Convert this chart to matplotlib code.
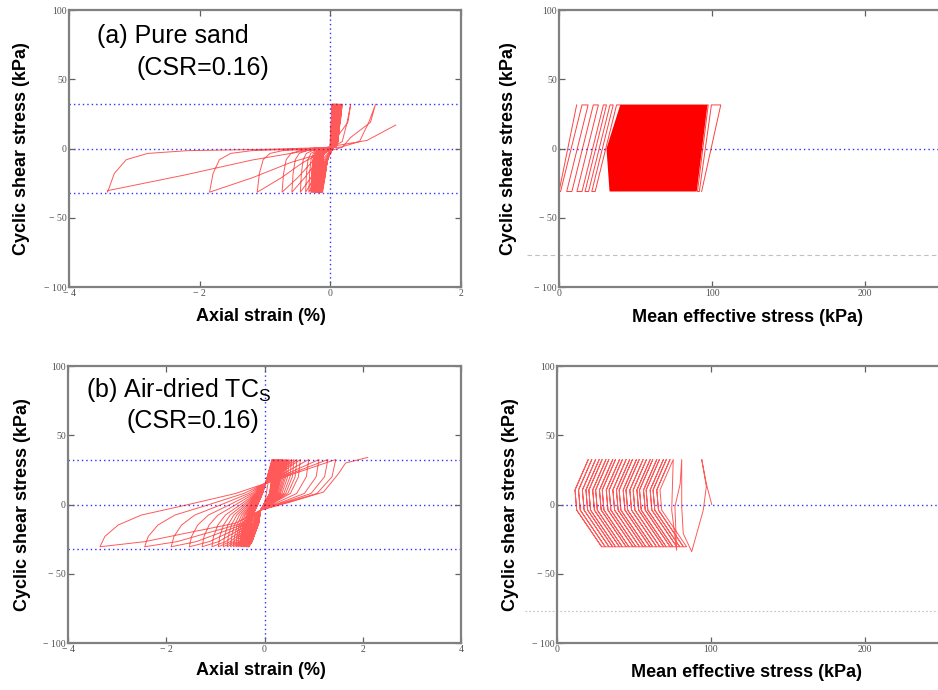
import matplotlib
matplotlib.use("Agg")
import matplotlib.pyplot as plt

plt.rcParams['font.family'] = ['Liberation Sans', 'DejaVu Sans']
plt.rcParams['mathtext.fontset'] = 'custom'
plt.rcParams['mathtext.rm'] = 'Liberation Sans'

# stress limits (kPa)
TAU_MAX = 32
GRAY_LEVEL = -77

# ---------- (a) pure sand : stress-strain loops ----------
# strain at +tau peak and at -tau corner, cycle by cycle
PEAK_A = [0.02, 0.02, 0.03, 0.03, 0.04, 0.04, 0.05, 0.05, 0.05, 0.06, 0.06, 0.06,
          0.07, 0.07, 0.07, 0.08, 0.08, 0.08, 0.09, 0.09, 0.09, 0.10, 0.10, 0.10,
          0.11, 0.11, 0.12, 0.12, 0.13, 0.13, 0.14, 0.15, 0.15, 0.16, 0.17, 0.18,
          0.31, 0.69]
CORNER_A = [-0.12, -0.13, -0.13, -0.14, -0.14, -0.15, -0.15, -0.16, -0.16, -0.17,
            -0.17, -0.18, -0.18, -0.19, -0.19, -0.20, -0.20, -0.21, -0.21, -0.22,
            -0.22, -0.23, -0.23, -0.24, -0.25, -0.26, -0.27, -0.28, -0.29, -0.30,
            -0.33, -0.38, -0.46, -0.59, -0.74, -1.12, -1.85, -3.41]
# loop shape read from the large loops (fraction of loop width, stress)
S_DN_A = [1.0, 0.975, 0.94, 0.87, 0.6, 0.3, 0.15, 0.07, 0.025, 0.0]
Y_DN_A = [32, 19, 5, 1, -0.5, -1.5, -3.5, -8, -18, -31.5]
S_UP_A = [0.0, 0.26, 0.49, 0.8, 0.85, 0.97, 1.0]
Y_UP_A = [-31.5, -21, -10, 1, 8, 19, 32]
TAIL_A_X = [-3.41, -2.22, -1.2, -0.3, 0.56, 1.0]
TAIL_A_Y = [-30.4, -19, -8.3, -1, 5.9, 17]

# ---------- (a) pure sand : stress path ----------
RIGHT_BOT_A = [93.2, 91.7, 90.5]
RIGHT_TOP_A = [105.7, 99.6, 97.5]
LEFT_BOT_A = [23.6, 21.4, 19.3, 17.0, 15.0, 11.7, 8.4, 5.0, 1.0, 0.0]
LEFT_TOP_A = [37.6, 35.4, 33.3, 31.0, 29.0, 25.7, 22.4, 19.0, 15.0, 11.5]
BLOCK_A_P = [33, 90, 97, 40, 31]
BLOCK_A_Q = [-31, -31, 31.5, 31.5, 0]

# ---------- (b) air-dried TCs : stress-strain loops ----------
PEAK_B = [0.15, 0.16, 0.17, 0.18, 0.19, 0.20, 0.21, 0.23, 0.25, 0.27, 0.29, 0.31,
          0.33, 0.35, 0.37, 0.40, 0.43, 0.46, 0.50, 0.55, 0.60, 0.66, 0.73, 0.90,
          1.11, 1.29, 1.45]
CORNER_B = [-0.32, -0.32, -0.33, -0.33, -0.34, -0.35, -0.36, -0.37, -0.38, -0.40,
            -0.42, -0.44, -0.47, -0.50, -0.54, -0.58, -0.63, -0.69, -0.76, -0.84,
            -0.94, -1.07, -1.27, -1.53, -1.90, -2.44, -3.35]
PINCH_LO = (-0.08, -4)
PINCH_HI = (0.02, 15.3)
S_LO_B = [0.0, 0.28, 0.53, 0.84, 1.0]
Y_LO_B = [-30.5, -26.8, -20.8, -13.6, -4]
S_RISE_B = [0.0, 0.31, 0.75, 0.95, 1.0]
Y_RISE_B = [-4, 0.9, 8, 20, 32.5]
S_UPC_B = [1.0, 0.82, 0.52, 0.25, 0.11, 0.03, 0.0]
Y_UPC_B = [15.3, 8, -0.4, -7.6, -14.8, -23, -30.5]
TAIL_B_X = [-0.08, 0.5, 1.2, 1.5, 1.65, 2.1]
TAIL_B_Y = [-4, 1.5, 9, 22, 30, 34]

# ---------- (b) air-dried TCs : stress path ----------
EARLY_B_P = [100.5, 97, 94, 97, 95, 87.5, 82, 81, 81, 80, 76.6, 77.7, 74.5]
EARLY_B_Q = [0, 15, 32.5, 13, -4, -34, -21, -1.6, 32.5, 15, -1.6, -33, -4]
TOP_B = [75.5, 73.4, 71.0, 69.1, 66.5, 64.8, 62.2, 60.5, 58.1, 55.9, 53.4, 51.6,
         49.0, 47.2, 44.9, 42.5, 40.6, 38.0, 36.2, 33.7, 31.8, 29.3, 27.4, 25.1,
         22.6, 20.3]
DP_B = [0, -8.6, -7.5, 8.7]
Q_B = [32.5, 10.5, -4, -30.5]

RED = '#ff0000'
BLUE = '#3030ff'


def loops_a():
    xs, ys = [0.0, PEAK_A[0]], [0.0, 32]
    for k, (c, a) in enumerate(zip(PEAK_A, CORNER_A)):
        if k > 0:
            a0 = CORNER_A[k - 1]
            xs += [a0 + s * (c - a0) for s in S_UP_A]
            ys += Y_UP_A
        xs += [a + s * (c - a) for s in S_DN_A]
        ys += Y_DN_A
    return xs + TAIL_A_X, ys + TAIL_A_Y


def loops_b():
    xs, ys = [0.0, PEAK_B[0]], [0.0, 32.5]
    for k, (c, a) in enumerate(zip(PEAK_B, CORNER_B)):
        if k > 0:
            a0 = CORNER_B[k - 1]
            xs += [a0 + s * (PINCH_LO[0] - a0) for s in S_LO_B]
            ys += Y_LO_B
            xs += [PINCH_LO[0] + s * (c - PINCH_LO[0]) for s in S_RISE_B]
            ys += Y_RISE_B
        xs += [a + s * (PINCH_HI[0] - a) for s in S_UPC_B]
        ys += Y_UPC_B
    a0 = CORNER_B[-1]
    xs += [a0 + s * (PINCH_LO[0] - a0) for s in S_LO_B]
    ys += Y_LO_B
    return xs + TAIL_B_X, ys + TAIL_B_Y


def path_a():
    bots = RIGHT_BOT_A + LEFT_BOT_A
    tops = RIGHT_TOP_A + LEFT_TOP_A
    P, Q = [], []
    for i, (b, t) in enumerate(zip(bots, tops)):
        if i % 2 == 0:
            P += [b, t]; Q += [-31, 31.5]
        else:
            P += [t, b]; Q += [31.5, -31]
    return P, Q


def path_b():
    P, Q = list(EARLY_B_P), list(EARLY_B_Q)
    for i, t in enumerate(TOP_B):
        if i > 0:
            P += [t + d for d in DP_B[::-1]]
            Q += Q_B[::-1]
        P += [t + d for d in DP_B]
        Q += Q_B
    return P, Q


def style(ax, xlim, xticks, xlabels, xlab, xlab_pos, ylab_x):
    ax.set_xlim(xlim)
    ax.set_ylim(-100, 100)
    ax.set_xticks(xticks)
    ax.set_xticklabels(xlabels)
    ax.set_yticks([-100, -50, 0, 50, 100])
    ax.set_yticklabels(['\u2212 100', '\u2212 50', '0', '50', '100'])
    ax.tick_params(direction='in', top=True, right=True, length=4, width=0.9,
                   color='#606060', labelsize=7, labelcolor='#505050', pad=1.5)
    for lab in ax.get_xticklabels() + ax.get_yticklabels():
        lab.set_fontfamily('Liberation Serif')
    for sp in ax.spines.values():
        sp.set_color('#808080')
        sp.set_linewidth(1.6)
    ax.set_xlabel(xlab, fontsize=13, fontweight='bold')
    ax.xaxis.set_label_coords(*xlab_pos)
    ax.set_ylabel('Cyclic shear stress (kPa)', fontsize=13, fontweight='bold')
    ax.yaxis.set_label_coords(ylab_x, 0.5)


def blue(ax, x=True, limits=True):
    kw = dict(color=BLUE, lw=1.0, ls=(0, (1, 2.2)), zorder=1)
    ax.axhline(0, **kw)
    if limits:
        ax.axhline(TAU_MAX, **kw)
        ax.axhline(-TAU_MAX, **kw)
    if x:
        ax.axvline(0, **kw)


fig = plt.figure(figsize=(9.38, 6.9), dpi=100)
ax1 = fig.add_axes([0.0736, 0.584, 0.418, 0.4014])
ax2 = fig.add_axes([0.596, 0.584, 0.4893, 0.4014])
ax3 = fig.add_axes([0.0725, 0.0681, 0.419, 0.4014])
ax4 = fig.add_axes([0.5938, 0.0681, 0.4925, 0.4014])

# (a) left
blue(ax1)
xa, ya = loops_a()
ax1.plot(xa, ya, color=RED, lw=0.7, alpha=0.65, zorder=2)
style(ax1, (-4, 2), [-4, -2, 0, 2], ['\u2212 4', '\u2212 2', '0', '2'],
      'Axial strain (%)', (0.49, -0.075), -0.10)
ax1.text(0.071, 0.881, '(a) Pure sand', transform=ax1.transAxes, fontsize=18)
ax1.text(0.173, 0.765, '(CSR=0.16)', transform=ax1.transAxes, fontsize=18)

# (a) right
blue(ax2, x=False, limits=False)
ax2.fill(BLOCK_A_P, BLOCK_A_Q, color=RED, lw=0, zorder=2)
pa, qa = path_a()
ax2.plot(pa, qa, color=RED, lw=0.7, alpha=0.75, zorder=2)
ax2.plot([-21, 300], [GRAY_LEVEL, GRAY_LEVEL], color='#c0c0c0', lw=0.8,
         ls=(0, (4, 3)), clip_on=False, zorder=1)
style(ax2, (0, 300), [0, 100, 200, 300], ['0', '100', '200', ''],
      'Mean effective stress (kPa)', (0.41, -0.08), -0.092)

# (b) left
blue(ax3)
xb, yb = loops_b()
ax3.plot(xb, yb, color=RED, lw=0.7, alpha=0.65, zorder=2)
style(ax3, (-4, 4), [-4, -2, 0, 2, 4], ['\u2212 4', '\u2212 2', '0', '2', '4'],
      'Axial strain (%)', (0.49, -0.068), -0.095)
ax3.text(0.046, 0.888, r'(b) Air-dried TC$_\mathregular{S}$', transform=ax3.transAxes,
         fontsize=18)
ax3.text(0.148, 0.776, '(CSR=0.16)', transform=ax3.transAxes, fontsize=18)

# (b) right
blue(ax4, x=False, limits=False)
pb, qb = path_b()
ax4.plot(pb, qb, color=RED, lw=0.7, alpha=0.65, zorder=2)
ax4.plot([-21, 300], [GRAY_LEVEL, GRAY_LEVEL], color='#c0c0c0', lw=0.8,
         ls=(0, (1.5, 2)), clip_on=False, zorder=1)
style(ax4, (0, 300), [0, 100, 200, 300], ['0', '100', '200', ''],
      'Mean effective stress (kPa)', (0.41, -0.075), -0.082)

fig.savefig('out.png', dpi=100)
